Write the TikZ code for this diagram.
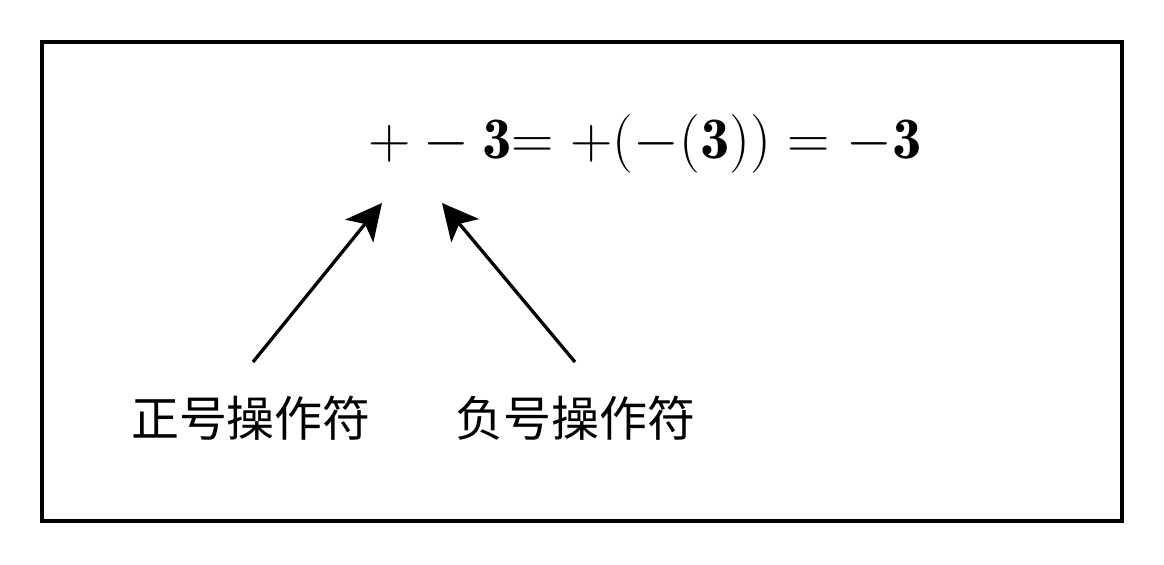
\RequirePackage{fix-cm}
\documentclass[tikz,border=0pt]{standalone}
\usepackage{amsmath}
\usepackage{fontspec}
\newfontfamily\cjk{Noto Sans CJK SC}
\usetikzlibrary{arrows.meta}

\tikzset{
  pointer/.style={-{Stealth[length=18pt,width=18pt,inset=4.5pt]},line width=1.65pt},
  oplabel/.style={font=\cjk\fontsize{24}{28}\selectfont,inner sep=0pt}
}

\begin{document}
\begin{tikzpicture}[x=0.5pt,y=-0.5pt]
\useasboundingbox (0,0) rectangle (1164,564);

% Frame
\draw[line width=2.15pt] (42,42) rectangle (1122,521);

% Expression
\node[anchor=base west,inner sep=0pt,font=\fontsize{29.4}{34}\selectfont] (expr) at (368,158)
  {\(+-\mathbf{3}\)\(=+(-(\mathbf{3}))=-\mathbf{3}\)};

% Operator names
\node[oplabel] (plusop) at (251,418) {正号操作符};
\node[oplabel] (minusop) at (575,418) {负号操作符};

% Pointers to the signs
\coordinate (plustail) at (253,362);
\coordinate (plustip) at (382,203);
\coordinate (minustail) at (575,362);
\coordinate (minustip) at (442,203);
\draw[pointer] (plustail) -- (plustip);
\draw[pointer] (minustail) -- (minustip);
\end{tikzpicture}
\end{document}
